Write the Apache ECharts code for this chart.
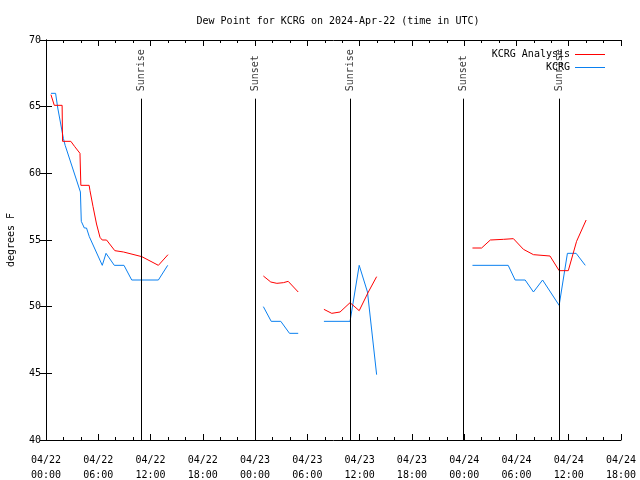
<!DOCTYPE html>
<html>
<head>
<meta charset="utf-8">
<script src="https://cdn.jsdelivr.net/npm/echarts@6/dist/echarts.min.js"></script>
<style>html,body{margin:0;padding:0;background:#fff}#chart{width:640px;height:480px}</style>
</head>
<body>
<div id="chart"></div>
<script>
// Hours since 2024-04-22 00:00 UTC; null = data gap
const analysisHours = [0.57,0.95,1.85,1.9,2.85,3.3,3.9,4.0,4.95,5.05,5.4,5.8,6.2,6.45,6.95,7.9,8.9,11.0,12.9,14.0,
  19,
  24.95,25.8,26.5,27.25,27.8,28.95,
  30.5,
  31.9,32.8,33.75,34.9,35.95,37.0,37.95,
  43,
  48.95,50.0,51.0,52.5,53.65,54.8,55.95,57.85,58.9,59.95,60.9,62.0];
const analysisDewpt = [65.9,65.1,65.1,62.4,62.4,62.0,61.5,59.1,59.1,58.7,57.5,56.2,55.2,55.0,55.0,54.2,54.1,53.75,53.1,53.9,
  null,
  52.3,51.85,51.75,51.8,51.9,51.1,
  null,
  49.8,49.5,49.6,50.3,49.7,51.1,52.25,
  null,
  54.4,54.4,55.0,55.05,55.1,54.3,53.9,53.8,52.7,52.7,54.9,56.5];

const obsHours = [0.57,1.1,1.35,2.0,2.2,3.95,4.05,4.4,4.65,4.97,6.46,6.89,7.84,8.95,9.84,12.9,13.97,
  19,
  24.95,25.85,26.95,27.95,28.95,
  30.5,
  31.9,34.9,35.95,36.9,37.95,
  43,
  48.95,53.05,53.85,55.0,55.95,57.0,58.9,59.85,60.85,61.9];
const obsDewpt = [66.0,66.0,64.9,62.6,62.1,58.6,56.4,55.9,55.9,55.25,53.1,54.0,53.1,53.1,52.0,52.0,53.1,
  null,
  50.0,48.9,48.9,48.0,48.0,
  null,
  48.9,48.9,53.1,51.1,44.9,
  null,
  53.1,53.1,52.0,52.0,51.1,52.0,50.1,54.0,54.0,53.1];

const sunHours = [10.9, 24.0, 34.9, 47.95, 58.9];
const sunNames = ['Sunrise','Sunset','Sunrise','Sunset','Sunrise'];

const seriesNames = ['KCRG Analysis','KCRG'];
const seriesColors = ['#ff0000','#0a80f0'];
const titleText = 'Dew Point for KCRG on 2024-Apr-22 (time in UTC)';
const yTicks = {min:40, max:70, step:5};
const xTicks = {min:0, max:66, step:6};

const FONT = 'DejaVu Sans Mono';
const toPairs = (hs, vs) => hs.map((h,i) => [h, vs[i] === null ? '-' : vs[i]]);
const fmtX = v => {
  const day = 22 + Math.floor(v/24);
  const hr = Math.round(v % 24);
  return '04/' + day + '\n' + String(hr).padStart(2,'0') + ':00';
};

const chart = echarts.init(document.getElementById('chart'), null, {renderer:'canvas'});
const axisLineStyle = {color:'#000', width:1};
chart.setOption({
  animation:false,
  backgroundColor:'#fff',
  title:{text:titleText, left:333, top:11, textAlign:'center',
    textStyle:{fontFamily:FONT, fontSize:10, fontWeight:'normal', color:'#000'}},
  legend:{
    data:seriesNames.map(n => ({name:n, icon:'path://M0,0H30V1H0Z'})),
    orient:'vertical', right:30, top:43, align:'right',
    itemWidth:30, itemHeight:1, itemGap:0,
    textStyle:{fontFamily:FONT, fontSize:10, color:'#000', lineHeight:13}},
  grid:{left:46, right:19, top:40, bottom:40, containLabel:false, outerBoundsMode:'none'},
  xAxis:[{
    type:'value', min:xTicks.min, max:xTicks.max, interval:xTicks.step,
    axisLine:{lineStyle:axisLineStyle},
    axisTick:{inside:true, length:6, lineStyle:axisLineStyle},
    minorTick:{show:true, splitNumber:3, length:3, lineStyle:axisLineStyle},
    splitLine:{show:false},
    axisLabel:{formatter:fmtX, fontFamily:FONT, fontSize:10, color:'#000', margin:13, lineHeight:15,
      showMinLabel:true, showMaxLabel:true, hideOverlap:false}
  },{
    type:'value', position:'top', min:xTicks.min, max:xTicks.max, interval:xTicks.step,
    axisLine:{lineStyle:axisLineStyle},
    axisTick:{inside:true, length:6, lineStyle:axisLineStyle},
    minorTick:{show:true, splitNumber:3, length:3, lineStyle:axisLineStyle},
    splitLine:{show:false}, axisLabel:{show:false}
  }],
  yAxis:[{
    type:'value', min:yTicks.min, max:yTicks.max, interval:yTicks.step,
    name:'degrees F', nameLocation:'middle', nameGap:30, nameRotate:90,
    nameTextStyle:{fontFamily:FONT, fontSize:10, color:'#000'},
    axisLine:{lineStyle:axisLineStyle},
    axisTick:{inside:true, length:6, lineStyle:axisLineStyle},
    splitLine:{show:false},
    axisLabel:{fontFamily:FONT, fontSize:10, color:'#000', margin:5}
  },{
    type:'value', position:'right', min:yTicks.min, max:yTicks.max, interval:yTicks.step,
    axisLine:{lineStyle:axisLineStyle},
    axisTick:{inside:true, length:6, lineStyle:axisLineStyle},
    splitLine:{show:false}, axisLabel:{show:false}
  }],
  series:[
    {name:seriesNames[0], type:'line', data:toPairs(analysisHours, analysisDewpt),
     symbol:'none', connectNulls:false, color:seriesColors[0],
     itemStyle:{color:seriesColors[0]},
     lineStyle:{width:1, color:seriesColors[0]}, z:3},
    {name:seriesNames[1], type:'line', data:toPairs(obsHours, obsDewpt),
     symbol:'none', connectNulls:false, color:seriesColors[1],
     itemStyle:{color:seriesColors[1]},
     lineStyle:{width:1, color:seriesColors[1]}, z:2,
     markLine:{silent:true, symbol:'none', animation:false,
       lineStyle:{color:'#000', width:1, type:'solid'}, label:{show:false},
       data: sunHours.map(h => [{coord:[h, yTicks.min]}, {coord:[h, 65.6]}])}
    },
    {name:'sun', type:'scatter', symbolSize:0, silent:true,
     data: sunHours.map((h,i) => ({value:[h, 66.15], name:sunNames[i]})),
     label:{show:true, position:'inside', rotate:90, align:'left', verticalAlign:'middle',
       formatter:p => p.name, fontFamily:FONT, fontSize:10, color:'#000'}}
  ]
});
</script>
</body>
</html>
